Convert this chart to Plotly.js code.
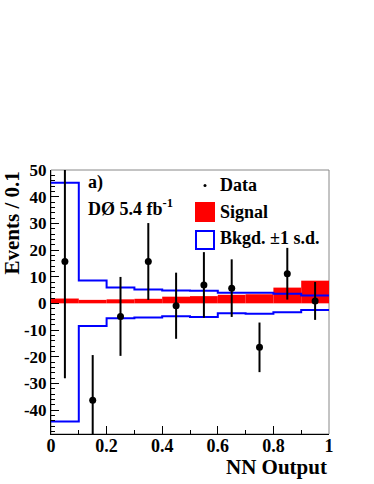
<!DOCTYPE html>
<html>
<head>
<meta charset="utf-8">
<script src="https://cdn.plot.ly/plotly-3.0.1.min.js"></script>
<style>html,body{margin:0;padding:0;background:#fff;}#chart{width:374px;height:484px;}</style>
</head>
<body>
<div id="chart"></div>
<script>
// Bin centres of the NN output histogram
const binCenters = [0.05, 0.15, 0.25, 0.35, 0.45, 0.55, 0.65, 0.75, 0.85, 0.95];
const binEdges = [0, 0.1, 0.2, 0.3, 0.4, 0.5, 0.6, 0.7, 0.8, 0.9, 1.0];
// Background-subtracted data and its uncertainty
const dataValues = [15.7, -36.3, -4.9, 15.7, -0.9, 6.9, 5.7, -16.5, 11.1, 0.9];
const dataErrors = [43.8, 16.9, 14.8, 14.4, 12.4, 12.3, 10.8, 9.3, 9.7, 7.1];
// Expected signal
const signalValues = [1.8, 1.3, 1.5, 1.7, 2.5, 2.7, 3.2, 3.4, 5.9, 8.5];
// Background uncertainty band (+1 s.d. / -1 s.d.)
const bkgUp = [45.2, 8.6, 5.9, 5.2, 4.8, 4.7, 4.0, 4.0, 3.6, 2.9];
const bkgDown = [-44.3, -8.5, -5.6, -5.3, -4.8, -5.1, -3.7, -3.9, -3.3, -2.5];
// Tick labels
const xTickVals = [0, 0.2, 0.4, 0.6, 0.8, 1];
const xTickText = ['0', '0.2', '0.4', '0.6', '0.8', '1'];
const yTickVals = [-40, -30, -20, -10, 0, 10, 20, 30, 40, 50];
const yTickText = ['-40', '-30', '-20', '-10', '0', '10', '20', '30', '40', '50'];

function stepY(vals) { return vals.concat([vals[vals.length - 1]]); }

const FONT = 'Liberation Serif, Times New Roman, serif';

const traces = [
  {
    type: 'bar', x: binCenters, y: signalValues, width: 0.1, base: 0,
    marker: {color: '#ff0000', line: {width: 0}}, showlegend: false, hoverinfo: 'skip'
  },
  {
    type: 'scatter', mode: 'lines', x: binEdges, y: stepY(bkgUp),
    line: {color: '#0000ff', width: 2, shape: 'hv'}, showlegend: false
  },
  {
    type: 'scatter', mode: 'lines', x: binEdges, y: stepY(bkgDown),
    line: {color: '#0000ff', width: 2, shape: 'hv'}, showlegend: false
  },
  {
    type: 'scatter', mode: 'markers', x: binCenters, y: dataValues,
    marker: {color: '#000', size: 7},
    error_y: {type: 'data', array: dataErrors, visible: true, width: 0, thickness: 2, color: '#000'},
    showlegend: false
  }
];

const layout = {
  width: 374, height: 484,
  margin: {l: 51, r: 45, t: 170, b: 50, pad: 0},
  paper_bgcolor: '#fff', plot_bgcolor: '#fff',
  showlegend: false,
  font: {family: FONT, color: '#000'},
  xaxis: {
    range: [0, 1], tickvals: xTickVals, ticktext: xTickText,
    ticks: 'inside', ticklen: 8, tickwidth: 1, tickcolor: '#000',
    minor: {dtick: 0.1, tick0: 0, ticks: 'inside', ticklen: 4, tickcolor: '#000'},
    showline: true, linecolor: '#000', linewidth: 1, showgrid: false, zeroline: false,
    tickfont: {family: FONT, size: 18, weight: 'bold', color: '#000'}, ticklabelstandoff: -5
  },
  yaxis: {
    range: [-49, 50], tickvals: yTickVals, ticktext: yTickText,
    ticks: 'inside', ticklen: 8, tickwidth: 1, tickcolor: '#000',
    minor: {dtick: 2, tick0: 0, ticks: 'inside', ticklen: 4, tickcolor: '#000'},
    showline: true, linecolor: '#000', linewidth: 1, showgrid: false, zeroline: false,
    tickfont: {family: FONT, size: 17, weight: 'bold', color: '#000'}
  },
  shapes: [
    {type: 'rect', xref: 'paper', yref: 'paper', x0: 0, x1: 1, y0: 0, y1: 1,
     line: {color: '#888', width: 1}, layer: 'below'},
    // legend swatches
    {type: 'circle', xref: 'paper', yref: 'paper', x0: (203.5-51)/278, x1: (206.5-51)/278,
     y0: (434-187)/264, y1: (434-184)/264, fillcolor: '#000', line: {width: 0}},
    {type: 'rect', xref: 'paper', yref: 'paper', x0: (195-51)/278, x1: (215-51)/278,
     y0: (434-222)/264, y1: (434-202)/264, fillcolor: '#ff0000', line: {width: 0}},
    {type: 'rect', xref: 'paper', yref: 'paper', x0: (196-51)/278, x1: (214-51)/278,
     y0: (434-249)/264, y1: (434-231)/264, fillcolor: '#fff', line: {color: '#0000ff', width: 2}}
  ],
  annotations: [
    {text: 'a)', xref: 'paper', yref: 'paper', x: (86-51)/278, y: (434-182)/264,
     xanchor: 'left', yanchor: 'middle', showarrow: false,
     font: {family: FONT, size: 18, weight: 'bold', color: '#000'}},
    {text: 'DØ 5.4 fb<sup>-1</sup>', xref: 'paper', yref: 'paper', x: (86-51)/278, y: (434-207)/264,
     xanchor: 'left', yanchor: 'middle', showarrow: false,
     font: {family: FONT, size: 18, weight: 'bold', color: '#000'}},
    {text: 'Data', xref: 'paper', yref: 'paper', x: (218-51)/278, y: (434-185)/264,
     xanchor: 'left', yanchor: 'middle', showarrow: false,
     font: {family: FONT, size: 18, weight: 'bold', color: '#000'}},
    {text: 'Signal', xref: 'paper', yref: 'paper', x: (218-51)/278, y: (434-212)/264,
     xanchor: 'left', yanchor: 'middle', showarrow: false,
     font: {family: FONT, size: 18, weight: 'bold', color: '#000'}},
    {text: 'Bkgd. ±1 s.d.', xref: 'paper', yref: 'paper', x: (218-51)/278, y: (434-238)/264,
     xanchor: 'left', yanchor: 'middle', showarrow: false,
     font: {family: FONT, size: 18, weight: 'bold', color: '#000'}},
    {text: 'NN Output', xref: 'paper', yref: 'paper', x: 1, y: (434-467)/264,
     xanchor: 'right', yanchor: 'middle', showarrow: false,
     font: {family: FONT, size: 21, weight: 'bold', color: '#000'}},
    {text: 'Events / 0.1', xref: 'paper', yref: 'paper', x: (11-51)/278, y: 1,
     xanchor: 'center', yanchor: 'top', textangle: -90, showarrow: false,
     font: {family: FONT, size: 21, weight: 'bold', color: '#000'}}
  ]
};

Plotly.newPlot('chart', traces, layout, {staticPlot: true, displayModeBar: false});
</script>
</body>
</html>
